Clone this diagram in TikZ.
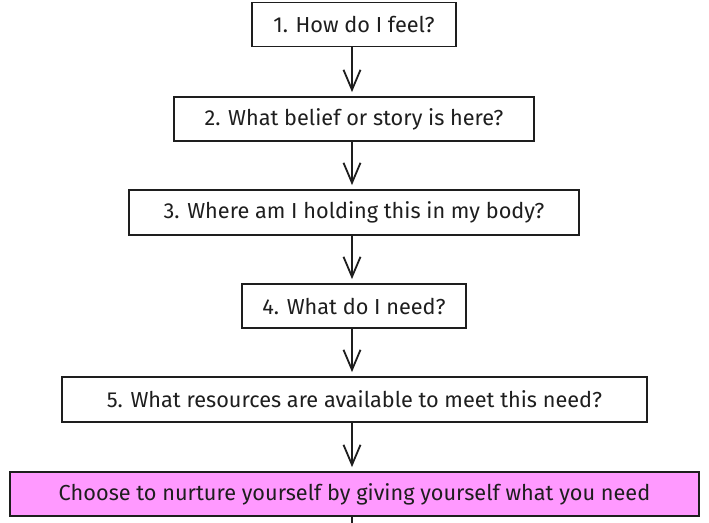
\documentclass[tikz,border=0pt]{standalone}
\usepackage{fontspec}
\setmainfont{Fira Sans}
\usetikzlibrary{arrows.meta}
\definecolor{ink}{HTML}{1E1E1E}
\definecolor{pinkfill}{HTML}{FF99FF}
\begin{document}
\begin{tikzpicture}[x=1pt,y=-1pt,
  stepbox/.style={draw=ink,line width=1.8pt,fill=white,text=ink,minimum height=44pt,inner sep=0pt,font=\fontsize{21.7}{26}\selectfont},
  flow/.style={draw=ink,line width=1.8pt,-{Straight Barb[length=20pt,width=17pt,line width=1.8pt]}}]
\useasboundingbox (0,0) rectangle (709,522);
\node[stepbox,minimum width=204pt] (b1) at (354,24.5) {1. How do I feel?};
\node[stepbox,minimum width=360pt] (b2) at (354,119) {2. What belief or story is here?};
\node[stepbox,minimum width=450pt,minimum height=45pt] (b3) at (354,212.5) {3. Where am I holding this in my body?};
\node[stepbox,minimum width=224pt] (b4) at (354,306) {4. What do I need?};
\node[stepbox,minimum width=585pt,minimum height=45pt] (b5) at (354.5,399.5) {5. What resources are available to meet this need?};
\node[stepbox,fill=pinkfill,minimum width=689pt] (b6) at (354.5,494) {Choose to nurture yourself by giving yourself what you need};
\coordinate (end) at (352,524);
\draw[flow] ([xshift=-2pt]b1.south) -- ([xshift=-2pt,yshift=4pt]b2.north);
\draw[flow] ([xshift=-2pt]b2.south) -- ([xshift=-2pt,yshift=4pt]b3.north);
\draw[flow] ([xshift=-2pt]b3.south) -- ([xshift=-2pt,yshift=4pt]b4.north);
\draw[flow] ([xshift=-2pt]b4.south) -- ([xshift=-2.5pt,yshift=4pt]b5.north);
\draw[flow] ([xshift=-2.5pt]b5.south) -- ([xshift=-2.5pt,yshift=4pt]b6.north);
\draw[draw=ink,line width=1.8pt] ([xshift=-2.5pt]b6.south) -- (end);
\end{tikzpicture}
\end{document}
